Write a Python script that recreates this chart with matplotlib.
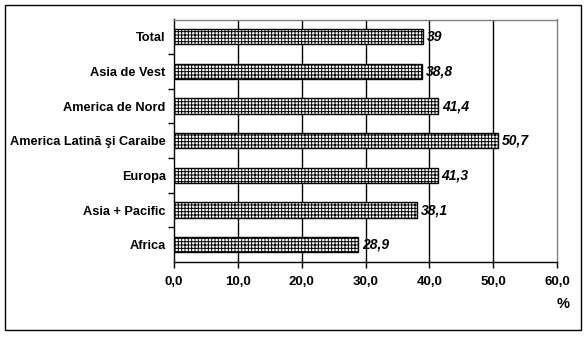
import matplotlib
matplotlib.use("Agg")
import matplotlib.pyplot as plt
from matplotlib.patches import Rectangle

# Data (top to bottom).
regions = ["Total", "Asia de Vest", "America de Nord",
           "America Latină şi Caraibe", "Europa", "Asia + Pacific", "Africa"]
values = [39.0, 38.8, 41.4, 50.7, 41.3, 38.1, 28.9]
value_labels = ["39", "38,8", "41,4", "50,7", "41,3", "38,1", "28,9"]
x_ticks = [0, 10, 20, 30, 40, 50, 60]
x_tick_labels = ["0,0", "10,0", "20,0", "30,0", "40,0", "50,0", "60,0"]

plt.rcParams["font.family"] = ["Liberation Sans", "DejaVu Sans"]
plt.rcParams["hatch.linewidth"] = 0.7

fig = plt.figure(figsize=(5.88, 3.37), dpi=100)
ax = fig.add_axes([174 / 588, 1 - 262 / 337, (557 - 174) / 588, (262 - 19.5) / 337])

pos = list(range(len(regions)))
ax.barh(pos, values, height=0.44, color="white", edgecolor="black",
        linewidth=1.0, hatch="+++++", zorder=3)

for y, v, lab in zip(pos, values, value_labels):
    ax.text(v + 0.6, y, lab, va="center", ha="left", fontsize=10,
            fontweight="bold", fontstyle="italic", zorder=4)

ax.set_xlim(0, 60)
ax.set_ylim(len(regions) - 0.5, -0.5)

ax.set_xticks(x_ticks)
ax.set_xticklabels(x_tick_labels, fontsize=9.5, fontweight="bold")
ax.tick_params(axis="x", direction="out", length=4, width=1, pad=6)
for x in x_ticks[1:-1]:
    ax.axvline(x, color="black", linewidth=1.0, zorder=1)

ax.set_yticks(pos)
ax.set_yticklabels(regions, fontsize=9.2, fontweight="bold")
ax.tick_params(axis="y", which="major", length=0, pad=6)
ax.set_yticks([p + 0.5 for p in pos[:-1]], minor=True)
ax.tick_params(axis="y", which="minor", direction="out", length=4, width=1)

ax.spines["left"].set_color("black")
ax.spines["bottom"].set_color("black")
ax.spines["top"].set_color("#808080")
ax.spines["right"].set_color("#808080")
for s in ax.spines.values():
    s.set_linewidth(1.0)

fig.text(563 / 588, 1 - 304 / 337, "%", ha="center", va="center",
         fontsize=10.5, fontweight="bold")

# outer frame around the whole chart
fig.patches.append(Rectangle((5 / 588, 1 - 330 / 337), 576 / 588, 325 / 337,
                             transform=fig.transFigure, fill=False,
                             edgecolor="black", linewidth=1.0))

fig.savefig("out.png", dpi=100)
